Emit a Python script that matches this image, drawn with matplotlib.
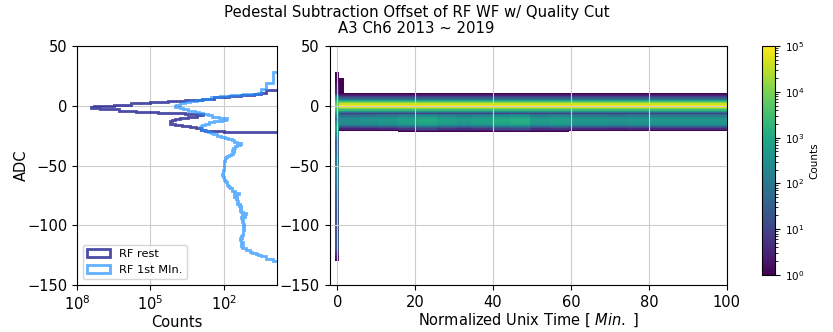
import numpy as np
import matplotlib
matplotlib.use("Agg")
import matplotlib.pyplot as plt
from matplotlib.colors import LogNorm

# ---------------- data ----------------
title = "Pedestal Subtraction Offset of RF WF w/ Quality Cut\nA3 Ch6 2013 ~ 2019"

# 1D histogram of the first minute: 1-ADC bins, centres -129.5 ... 27.5
first_min_edges = np.arange(-130, 29, 1)
first_min_counts = [
    1, 1, 2, 2, 3, 4, 5, 7, 9, 12,                   # -129.5 .. -120.5
    12, 18, 16, 20, 18, 17, 21, 20, 22, 19,          # -119.5 .. -110.5
    20, 18, 17, 16, 17, 16, 15, 16, 15, 16,          # -109.5 .. -100.5
    15, 17, 16, 18, 17, 19, 20, 14, 18, 13,          # -99.5 .. -90.5
    17, 20, 22, 21, 23, 21, 24, 22, 28, 26,          # -89.5 .. -80.5
    30, 28, 33, 30, 40, 32, 25, 40, 36, 45,          # -79.5 .. -70.5
    48, 55, 60, 66, 72, 78, 85, 90, 95, 100,         # -69.5 .. -60.5
    105, 110, 115, 112, 110, 105, 102, 100, 100, 98,  # -59.5 .. -50.5
    100, 100, 98, 95, 92, 88, 80, 72, 60, 50,        # -49.5 .. -40.5
    42, 40, 45, 38, 42, 35, 28, 22, 20, 28,          # -39.5 .. -30.5
    40, 45, 70, 90, 130, 200, 280, 350, 450, 550,    # -29.5 .. -20.5
    800, 950, 900, 750, 600, 400, 250, 120, 80, 76,  # -19.5 .. -10.5
    160, 300, 450, 700, 1000, 1500, 3000, 4500, 6500, 10000,  # -9.5 .. -0.5
    9000, 6500, 4000, 2500, 1300, 700, 350, 150, 50, 16,      # 0.5 .. 9.5
    4, 3, 3, 3, 2, 2, 2, 2, 2, 1,                    # 10.5 .. 19.5
    1, 1, 1, 1, 1, 1, 1, 1,                          # 20.5 .. 27.5
]

# 1D histogram of the rest: 1-ADC bins, centres -21.5 ... 12.5
rest_edges = np.arange(-22, 14, 1)
rest_counts = [
    100, 600, 900, 1400, 2500, 5000, 10000, 16000, 16000, 13000,   # -21.5 .. -12.5
    10000, 6000, 3000, 1300, 700, 4000, 50000, 400000, 2000000, 12000000,  # -11.5 .. -2.5
    28000000, 20000000, 3000000, 600000, 100000, 20000, 4000, 800, 250, 60,  # -1.5 .. 7.5
    20, 6, 3, 2,                                     # 8.5 .. 11.5
    2,                                               # 12.5
]

# 2D histogram (time vs ADC)
time_edges = -0.7 + 1.253 * np.arange(82)          # 81 time bins, first = 1st minute
adc_edges = np.arange(-150, 51, 1)
# mean counts per cell in the "rest" columns, ADC centres -21.5 ... 10.5
rest_cell_counts = [0.4, 1.2, 4, 12, 40, 120, 250, 380, 450, 450,
                    400, 350, 250, 120, 40, 10, 60, 400, 2500, 12000,
                    50000, 100000, 100000, 40000, 12000, 3000, 600, 150, 30, 8,
                    3, 1.5, 0.6]
# brightness offset (log10) of the lower band, per 5-minute segment
lower_band_offset = [-0.2, -0.1, 0.0, 0.2, 0.4, 0.2, 0.1, 0.2, 0.4, 0.5,
                     0.1, 0.2, 0.0, 0.0, -0.1, 0.0, 0.0, 0.0, 0.0, 0.0]
# extra single counts above the band in the second time bin (ADC 10 .. 23)
second_bin_top_counts = [1] * 13

# ---------------- build the 2D table ----------------
n_t = len(time_edges) - 1
n_a = len(adc_edges) - 1
H = np.zeros((n_a, n_t))
a0 = int(first_min_edges[0] - adc_edges[0])
H[a0:a0 + len(first_min_counts), 0] = first_min_counts
r0 = int(-22 - adc_edges[0])
centers_t = 0.5 * (time_edges[:-1] + time_edges[1:])
rest_prof = np.array(rest_cell_counts, dtype=float)
rest_centres = -21.5 + np.arange(len(rest_prof))
for j in range(1, n_t):
    seg = min(int(max(centers_t[j], 0) // 5), len(lower_band_offset) - 1)
    col = rest_prof.copy()
    low = rest_centres <= -7
    col[low] = col[low] * 10 ** lower_band_offset[seg]
    H[r0:r0 + len(col), j] = np.round(col)
t0 = int(10 - adc_edges[0])
H[t0:t0 + len(second_bin_top_counts), 1] = np.maximum(
    H[t0:t0 + len(second_bin_top_counts), 1], second_bin_top_counts)
Hm = np.ma.masked_less(H, 1)

# ---------------- figure ----------------
W, Hpx = 833, 332
fig = plt.figure(figsize=(W / 100, Hpx / 100), dpi=100)

def fr(x0, y0, x1, y1):
    return [x0 / W, 1 - y1 / Hpx, (x1 - x0) / W, (y1 - y0) / Hpx]

ax1 = fig.add_axes(fr(77, 46, 277, 285))
ax2 = fig.add_axes(fr(329.5, 46, 726.7, 285))
cax = fig.add_axes(fr(762, 46, 775, 275))

fs = 10.5
fm_c = 0.5 * (first_min_edges[:-1] + first_min_edges[1:])
rs_c = 0.5 * (rest_edges[:-1] + rest_edges[1:])
ax1.hist(rs_c, bins=rest_edges, weights=rest_counts, histtype='step',
         orientation='horizontal', log=True, color='navy', alpha=0.7,
         lw=2, label='RF rest')
ax1.hist(fm_c, bins=first_min_edges, weights=first_min_counts, histtype='step',
         orientation='horizontal', log=True, color='dodgerblue', alpha=0.7,
         lw=2, label='RF 1st MIn.')
ax1.set_xscale('log')
ax1.set_xlim(1e8, 0.68)
ax1.set_ylim(-150, 50)
ax1.set_xticks([1e8, 1e5, 1e2])
ax1.xaxis.set_minor_locator(matplotlib.ticker.NullLocator())
ax1.set_yticks([50, 0, -50, -100, -150])
ax1.grid(True, color='#cccccc', lw=0.8)
ax1.set_xlabel('Counts', fontsize=fs, labelpad=1)
ax1.set_ylabel('ADC', fontsize=fs, labelpad=-1)
ax1.tick_params(labelsize=fs)
ax1.legend(loc='lower left', fontsize=8.2, handlelength=2.0)

pc = ax2.pcolormesh(time_edges, adc_edges, Hm, cmap='viridis',
                    norm=LogNorm(vmin=1, vmax=1e5), antialiased=False)
ax2.set_xlim(-2, 100)
ax2.set_ylim(-150, 50)
ax2.set_xticks([0, 20, 40, 60, 80, 100])
ax2.set_yticks([50, 0, -50, -100, -150])
ax2.grid(True, color='#cccccc', lw=0.8)
ax2.set_xlabel(r'Normalized Unix Time [ $Min.$ ]', fontsize=fs, labelpad=1)
ax2.tick_params(labelsize=fs)

cb = fig.colorbar(pc, cax=cax)
cb.set_label('Counts', fontsize=7.5)
cb.ax.tick_params(labelsize=7.5)

fig.suptitle(title, fontsize=10.7, y=0.985, linespacing=1.05)

fig.savefig('out.png', dpi=100)
